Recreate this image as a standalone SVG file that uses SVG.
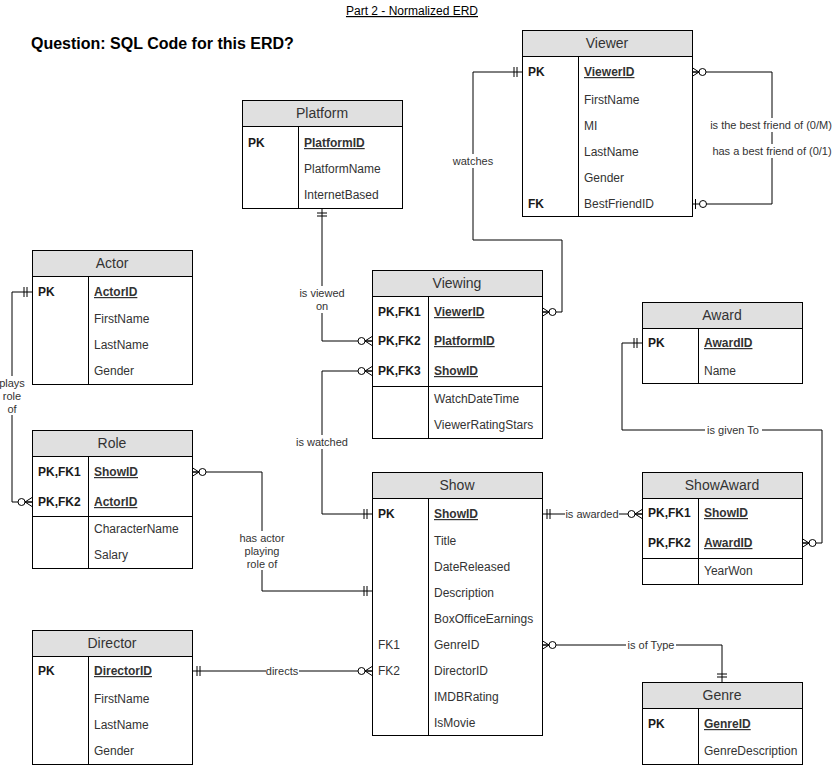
<svg xmlns="http://www.w3.org/2000/svg" width="835" height="768" viewBox="0 0 835 768">
<style>
text{font-family:"Liberation Sans",Arial,sans-serif;}
.hd{fill:#e0e0e0;stroke:#000;stroke-width:1}
.bd{fill:#fff;stroke:#000;stroke-width:1}
.ln{stroke:#000;stroke-width:1;fill:none}
.ht{font-size:14px;fill:#333;text-anchor:middle}
.k{font-size:12px;font-weight:bold;fill:#1a1a1a}
.kn{font-size:12px;fill:#333}
.f{font-size:12px;fill:#333}
.pk{font-size:12px;font-weight:bold;fill:#333;text-decoration:underline}
.lb{font-size:11px;fill:#333;text-anchor:middle}
.bg{fill:#fff;stroke:none}
.c{stroke:#000;stroke-width:1;fill:none;marker-start:var(--ms);marker-end:var(--me)}
</style>
<defs>
<marker id="one" markerUnits="userSpaceOnUse" orient="auto-start-reverse" overflow="visible" refX="0" refY="0" markerWidth="1" markerHeight="1">
<path d="M-5,-5V5M-8,-5V5" stroke="#000" stroke-width="1" fill="none"/>
</marker>
<marker id="many" markerUnits="userSpaceOnUse" orient="auto-start-reverse" overflow="visible" refX="0" refY="0" markerWidth="1" markerHeight="1">
<path d="M0,-4.5L-7,0L0,4.5M-7,0H0" stroke="#000" stroke-width="1" fill="none"/>
<circle cx="-10.5" cy="0" r="3.5" fill="#fff" stroke="#000" stroke-width="1"/>
</marker>
<marker id="zone" markerUnits="userSpaceOnUse" orient="auto-start-reverse" overflow="visible" refX="0" refY="0" markerWidth="1" markerHeight="1">
<path d="M-3.5,-5V5" stroke="#000" stroke-width="1" fill="none"/>
<circle cx="-11" cy="0" r="3.5" fill="#fff" stroke="#000" stroke-width="1"/>
</marker>
</defs>
<rect width="835" height="768" fill="#fff"/>
<text x="412" y="15" style="font-size:12px;fill:#000;text-anchor:middle;text-decoration:underline">Part 2 - Normalized ERD</text>
<text x="31" y="49" style="font-size:16px;font-weight:bold;fill:#000">Question: SQL Code for this ERD?</text>

<g id="connectors">
<path class="ln" d="M522,72H473V240H562V312H542" marker-start="url(#one)" marker-end="url(#many)"/>
<path class="ln" d="M692,72H772V204H692" marker-start="url(#many)" marker-end="url(#zone)"/>
<path class="ln" d="M322,208V341H372" marker-start="url(#one)" marker-end="url(#many)"/>
<path class="ln" d="M372,514H322V371H372" marker-start="url(#one)" marker-end="url(#many)"/>
<path class="ln" d="M32,292H12V502H32" marker-start="url(#one)" marker-end="url(#many)"/>
<path class="ln" d="M372,591H262V472H192" marker-start="url(#one)" marker-end="url(#many)"/>
<path class="ln" d="M542,514H642" marker-start="url(#one)" marker-end="url(#many)"/>
<path class="ln" d="M642,343H622V430H822V543H802" marker-start="url(#one)" marker-end="url(#many)"/>
<path class="ln" d="M192,671H372" marker-start="url(#one)" marker-end="url(#many)"/>
<path class="ln" d="M722,682V645H542" marker-start="url(#one)" marker-end="url(#many)"/>
<rect class="bg" x="451" y="154" width="43" height="14"/>
<text class="lb" x="473" y="165">watches</text>
<rect class="bg" x="708" y="118" width="126" height="14"/>
<text class="lb" x="771" y="129">is the best friend of (0/M)</text>
<rect class="bg" x="711" y="144" width="123" height="14"/>
<text class="lb" x="772" y="155">has a best friend of (0/1)</text>
<rect class="bg" x="298" y="286" width="48" height="27"/>
<text class="lb" x="322" y="297">is viewed</text>
<text class="lb" x="322" y="310">on</text>
<rect class="bg" x="295" y="435" width="54" height="14"/>
<text class="lb" x="322" y="446">is watched</text>
<rect class="bg" x="0" y="376" width="26" height="39"/>
<text class="lb" x="12" y="387">plays</text>
<text class="lb" x="12" y="400">role</text>
<text class="lb" x="12" y="413">of</text>
<rect class="bg" x="238" y="531" width="48" height="39"/>
<text class="lb" x="262" y="542">has actor</text>
<text class="lb" x="262" y="555">playing</text>
<text class="lb" x="262" y="568">role of</text>
<rect class="bg" x="565" y="507" width="54" height="14"/>
<text class="lb" x="592" y="518">is awarded</text>
<rect class="bg" x="705" y="423" width="57" height="14"/>
<text class="lb" x="733" y="434">is given To</text>
<rect class="bg" x="266" y="664" width="33" height="14"/>
<text class="lb" x="282" y="675">directs</text>
<rect class="bg" x="626" y="638" width="50" height="14"/>
<text class="lb" x="651" y="649">is of Type</text>
</g>

<g id="viewer">
<rect class="hd" x="522.5" y="30.5" width="170" height="26"/>
<rect class="bd" x="522.5" y="56.5" width="170" height="160"/>
<path class="ln" d="M578.5,56.5V216.5"/>
<text class="ht" x="607" y="48">Viewer</text>
<text class="k" x="528" y="76">PK</text><text class="pk" x="584" y="76">ViewerID</text>
<text class="f" x="584" y="104">FirstName</text>
<text class="f" x="584" y="130">MI</text>
<text class="f" x="584" y="156">LastName</text>
<text class="f" x="584" y="182">Gender</text>
<text class="k" x="528" y="208">FK</text><text class="f" x="584" y="208">BestFriendID</text>
</g>

<g id="platform">
<rect class="hd" x="242.5" y="100.5" width="160" height="26"/>
<rect class="bd" x="242.5" y="126.5" width="160" height="82"/>
<path class="ln" d="M298.5,126.5V208.5"/>
<text class="ht" x="322" y="118">Platform</text>
<text class="k" x="248" y="147">PK</text><text class="pk" x="304" y="147">PlatformID</text>
<text class="f" x="304" y="173">PlatformName</text>
<text class="f" x="304" y="199">InternetBased</text>
</g>

<g id="viewing">
<rect class="hd" x="372.5" y="270.5" width="170" height="26"/>
<rect class="bd" x="372.5" y="296.5" width="170" height="142"/>
<path class="ln" d="M428.5,296.5V438.5M372.5,386.5H542.5"/>
<text class="ht" x="457" y="288">Viewing</text>
<text class="k" x="378" y="316">PK,FK1</text><text class="pk" x="434" y="316">ViewerID</text>
<text class="k" x="378" y="345">PK,FK2</text><text class="pk" x="434" y="345">PlatformID</text>
<text class="k" x="378" y="375">PK,FK3</text><text class="pk" x="434" y="375">ShowID</text>
<text class="f" x="434" y="403">WatchDateTime</text>
<text class="f" x="434" y="429">ViewerRatingStars</text>
</g>

<g id="actor">
<rect class="hd" x="32.5" y="250.5" width="160" height="26"/>
<rect class="bd" x="32.5" y="276.5" width="160" height="108"/>
<path class="ln" d="M88.5,276.5V384.5"/>
<text class="ht" x="112" y="268">Actor</text>
<text class="k" x="38" y="296">PK</text><text class="pk" x="94" y="296">ActorID</text>
<text class="f" x="94" y="323">FirstName</text>
<text class="f" x="94" y="349">LastName</text>
<text class="f" x="94" y="375">Gender</text>
</g>

<g id="role">
<rect class="hd" x="32.5" y="430.5" width="160" height="26"/>
<rect class="bd" x="32.5" y="456.5" width="160" height="112"/>
<path class="ln" d="M88.5,456.5V568.5M32.5,516.5H192.5"/>
<text class="ht" x="112" y="448">Role</text>
<text class="k" x="38" y="476">PK,FK1</text><text class="pk" x="94" y="476">ShowID</text>
<text class="k" x="38" y="506">PK,FK2</text><text class="pk" x="94" y="506">ActorID</text>
<text class="f" x="94" y="533">CharacterName</text>
<text class="f" x="94" y="559">Salary</text>
</g>

<g id="show">
<rect class="hd" x="372.5" y="472.5" width="170" height="26"/>
<rect class="bd" x="372.5" y="498.5" width="170" height="237"/>
<path class="ln" d="M428.5,498.5V735.5"/>
<text class="ht" x="457" y="490">Show</text>
<text class="k" x="378" y="518">PK</text><text class="pk" x="434" y="518">ShowID</text>
<text class="f" x="434" y="545">Title</text>
<text class="f" x="434" y="571">DateReleased</text>
<text class="f" x="434" y="597">Description</text>
<text class="f" x="434" y="623">BoxOfficeEarnings</text>
<text class="kn" x="378" y="649">FK1</text><text class="f" x="434" y="649">GenreID</text>
<text class="kn" x="378" y="675">FK2</text><text class="f" x="434" y="675">DirectorID</text>
<text class="f" x="434" y="701">IMDBRating</text>
<text class="f" x="434" y="727">IsMovie</text>
</g>

<g id="award">
<rect class="hd" x="642.5" y="302.5" width="160" height="26"/>
<rect class="bd" x="642.5" y="328.5" width="160" height="55"/>
<path class="ln" d="M698.5,328.5V383.5"/>
<text class="ht" x="722" y="320">Award</text>
<text class="k" x="648" y="347">PK</text><text class="pk" x="704" y="347">AwardID</text>
<text class="f" x="704" y="375">Name</text>
</g>

<g id="showaward">
<rect class="hd" x="642.5" y="472.5" width="160" height="26"/>
<rect class="bd" x="642.5" y="498.5" width="160" height="86"/>
<path class="ln" d="M698.5,498.5V584.5M642.5,558.5H802.5"/>
<text class="ht" x="722" y="490">ShowAward</text>
<text class="k" x="648" y="517">PK,FK1</text><text class="pk" x="704" y="517">ShowID</text>
<text class="k" x="648" y="547">PK,FK2</text><text class="pk" x="704" y="547">AwardID</text>
<text class="f" x="704" y="575">YearWon</text>
</g>

<g id="director">
<rect class="hd" x="32.5" y="630.5" width="160" height="26"/>
<rect class="bd" x="32.5" y="656.5" width="160" height="108"/>
<path class="ln" d="M88.5,656.5V764.5"/>
<text class="ht" x="112" y="648">Director</text>
<text class="k" x="38" y="675">PK</text><text class="pk" x="94" y="675">DirectorID</text>
<text class="f" x="94" y="703">FirstName</text>
<text class="f" x="94" y="729">LastName</text>
<text class="f" x="94" y="755">Gender</text>
</g>

<g id="genre">
<rect class="hd" x="642.5" y="682.5" width="160" height="26"/>
<rect class="bd" x="642.5" y="708.5" width="160" height="56"/>
<path class="ln" d="M698.5,708.5V764.5"/>
<text class="ht" x="722" y="700">Genre</text>
<text class="k" x="648" y="728">PK</text><text class="pk" x="704" y="728">GenreID</text>
<text class="f" x="704" y="755">GenreDescription</text>
</g>
</svg>
